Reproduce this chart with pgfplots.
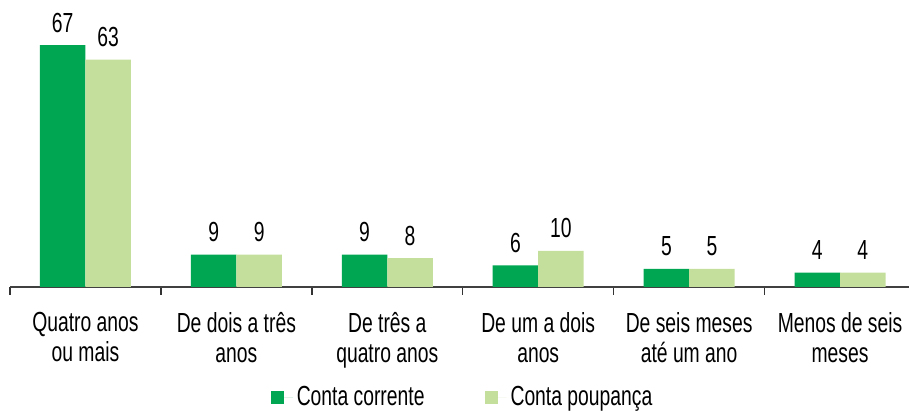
\documentclass[border=0pt]{standalone}
\usepackage{fontspec}
\setmainfont{Liberation Sans}[FakeStretch=0.7]
\usepackage{pgfplots}
\pgfplotsset{compat=1.18}
\definecolor{dgreen}{HTML}{00A651}
\definecolor{lgreen}{HTML}{C4DF9B}
\newcommand\fs{\fontsize{13.8pt}{15pt}\selectfont}
\begin{document}
\fs
\begin{tikzpicture}
\begin{axis}[
  scale only axis,
  width=449.5pt, height=143.5pt,
  xmin=-0.5, xmax=5.457, ymin=0, ymax=79.5,
  axis x line*=bottom, axis y line=none,
  x axis line style={black!75, line width=0.9pt, -},
  ybar=0pt, bar width=22.75pt,
  /pgf/number format/assume math mode=true,
  xtick={0,...,5},
  xticklabels={{Quatro anos\\ou mais},{De dois a três\\anos},{De três a\\quatro anos},{De um a dois\\anos},{De seis meses\\até um ano},{Menos de seis\\meses}},
  xticklabel style={align=center, font=\fs, yshift=-8pt},
  major tick length=0pt,
  minor xtick={-0.5,0.5,...,4.5},
  minor tick length=4pt,
  tick align=outside,
  minor tick style={black!80, line width=0.7pt},
  ytick=\empty,
  nodes near coords,
  every node near coord/.append style={font=\fs, yshift=1.6pt, black},
  legend columns=2,
  legend style={draw=none, at={(0.5045,-0.385)}, anchor=center, font=\fs,
    /tikz/every even column/.append style={column sep=28pt}},
  legend image code/.code={\fill[#1] (0pt,-3.25pt) rectangle (6.5pt,3.25pt); \path (0pt,0pt) -- (11pt,0pt);},
]
\addplot[fill=dgreen, draw=none] coordinates {(0,67) (1,9) (2,9) (3,6) (4,5) (5,4)};
\addplot[fill=lgreen, draw=none] coordinates {(0,63) (1,9) (2,8) (3,10) (4,5) (5,4)};
\legend{Conta corrente, Conta poupança}
\end{axis}
\pgfresetboundingbox
\path (-5pt,-62pt) rectangle (449.5pt,143.5pt);
\end{tikzpicture}
\end{document}
